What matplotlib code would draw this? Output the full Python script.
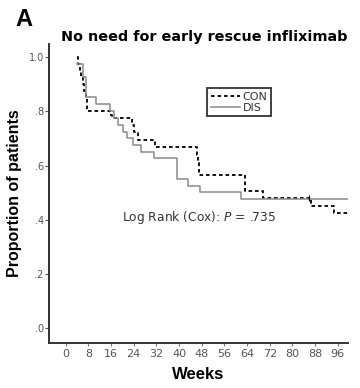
import matplotlib
matplotlib.use("Agg")
import matplotlib.pyplot as plt

# Kaplan-Meier step data (event times in weeks, survival after the step)
con_weeks = [4.0, 4.5, 5.0, 5.5, 6.0, 6.5, 7.0, 7.5, 15.6, 16.4, 23.3, 24.2, 25.4,
             31.5, 46.2, 46.8, 47.2, 63.3, 69.7, 86.5, 94.5, 99.5]
con_surv = [1.0, 0.975, 0.95, 0.925, 0.90, 0.875, 0.85, 0.80, 0.787, 0.775, 0.75, 0.722, 0.694,
            0.667, 0.639, 0.608, 0.565, 0.507, 0.479, 0.451, 0.426, 0.426]
con_censor_weeks = [86.0]
con_censor_surv = [0.479]

dis_weeks = [4.0, 6.0, 7.2, 10.7, 15.6, 17.0, 18.6, 20.1, 21.5, 23.9, 26.5,
             31.3, 39.2, 43.3, 47.4, 62.0, 99.5]
dis_surv = [0.975, 0.925, 0.854, 0.827, 0.80, 0.775, 0.75, 0.725, 0.70, 0.676, 0.651,
            0.627, 0.549, 0.526, 0.502, 0.475, 0.475]

x_ticks = [0, 8, 16, 24, 32, 40, 48, 56, 64, 72, 80, 88, 96]
y_ticks = [0.0, 0.2, 0.4, 0.6, 0.8, 1.0]
y_ticklabels = [".0", ".2", ".4", ".6", ".8", "1.0"]

fig = plt.figure(figsize=(3.6, 3.88), dpi=100)
ax = fig.add_axes([49.3 / 360, 45 / 388, (347.7 - 49.3) / 360, (343 - 44) / 388])

ax.step(con_weeks, con_surv, where="post", color="black", lw=1.3,
        linestyle=(0, (2.0, 1.6)), label="CON")
ax.step(dis_weeks, dis_surv, where="post", color="#8a8a8a", lw=1.1, label="DIS")
ax.plot(con_censor_weeks, con_censor_surv, linestyle="none", marker="|",
        color="black", markersize=4, markeredgewidth=0.8)

ax.set_xlim(-5.8, 99.5)
ax.set_ylim(-0.054, 1.048)
ax.set_xticks(x_ticks)
ax.set_xticklabels([str(t) for t in x_ticks])
ax.set_yticks(y_ticks)
ax.set_yticklabels(y_ticklabels)

for s in ["top", "right"]:
    ax.spines[s].set_visible(False)
for s in ["left", "bottom"]:
    ax.spines[s].set_linewidth(1.4)
    ax.spines[s].set_color("#333333")

ax.tick_params(axis="y", length=3, width=0.8, color="#555555", pad=1,
               labelsize=7, labelcolor="#555555")
ax.tick_params(axis="x", length=2, width=0.8, color="#777777", pad=2,
               labelsize=8, labelcolor="#555555")
for lbl in ax.get_xticklabels() + ax.get_yticklabels():
    lbl.set_family("DejaVu Sans")

ax.set_xlabel("Weeks", fontsize=12, fontweight="bold", family="Liberation Sans",
              labelpad=6)
ax.set_ylabel("Proportion of patients", fontsize=11.5, fontweight="bold",
              family="Liberation Sans", labelpad=5)

leg = ax.legend(loc="upper left", bbox_to_anchor=((207.3 - 49.3) / (347.7 - 49.3),
                                                   (343 - 88.3) / (343 - 44)),
                frameon=True, fancybox=False, fontsize=8, handlelength=2.6,
                handletextpad=0.3, borderpad=0.3, labelspacing=0.1,
                borderaxespad=0)
leg.get_frame().set_edgecolor("black")
leg.get_frame().set_linewidth(1.3)
for t in leg.get_texts():
    t.set_color("#333333")

ax.text(19.8, 0.407, "Log Rank (Cox): $\\it{P}$ = .735", fontsize=8.8,
        color="#333333", va="center", ha="left", family="DejaVu Sans")

fig.text(61 / 360, 1 - 37 / 388, "No need for early rescue infliximab",
         fontsize=10.4, fontweight="bold", family="DejaVu Sans", va="center", ha="left")
fig.text(15 / 360, 1 - 20 / 388, "A", fontsize=17, fontweight="bold",
         family="Liberation Sans", va="center", ha="left")

fig.savefig("out.png", dpi=100)
